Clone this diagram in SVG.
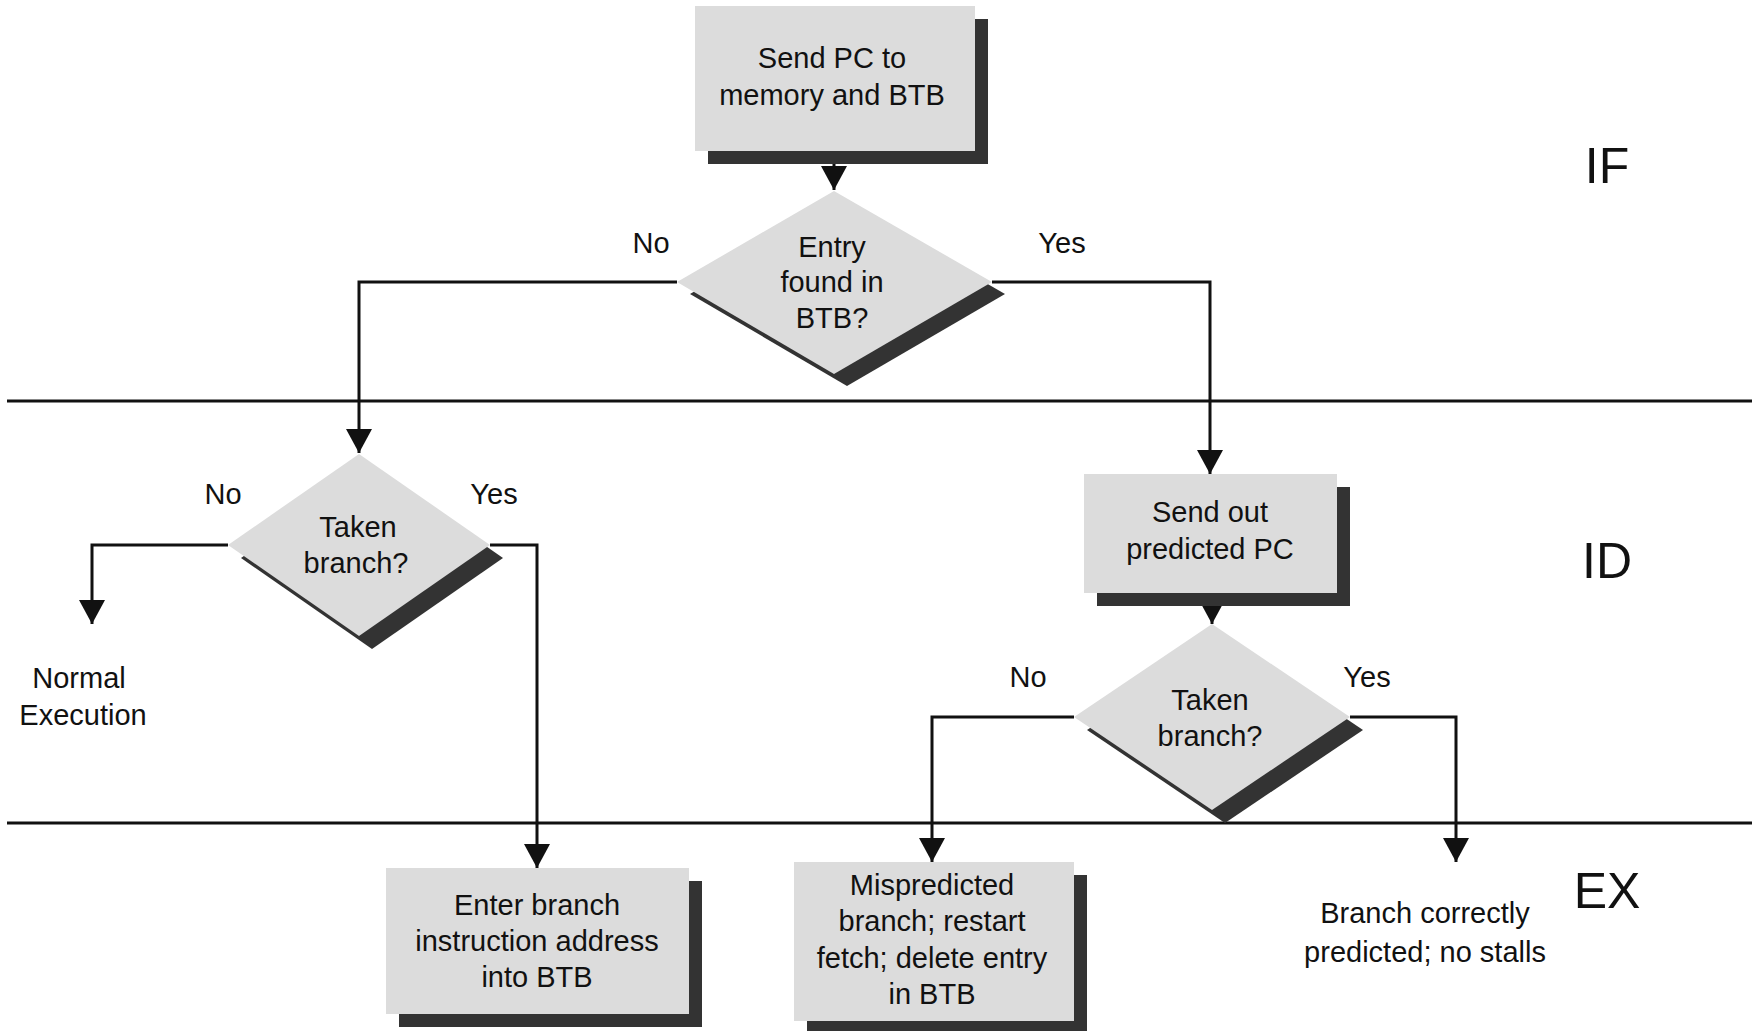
<svg xmlns="http://www.w3.org/2000/svg" width="1757" height="1031" viewBox="0 0 1757 1031">
<style>
  .t { font-family: "Liberation Sans", Arial, sans-serif; font-size: 29px; fill: #111; text-anchor: middle; }
  .big { font-family: "Liberation Sans", Arial, sans-serif; font-size: 50px; fill: #111; text-anchor: middle; }
  .box { fill: #dcdcdc; }
  .sh { fill: #333; }
  .ln { fill: none; stroke: #111; stroke-width: 3; }
  .sep { fill: none; stroke: #111; stroke-width: 3; }
</style>
<defs>
  <marker id="arr" markerUnits="userSpaceOnUse" markerWidth="26" markerHeight="26" refX="24" refY="13" orient="auto">
    <path d="M0,0 L24,13 L0,26 z" fill="#111"/>
  </marker>
</defs>
<rect width="1757" height="1031" fill="#fff"/>

<g id="separators">
  <line class="sep" x1="7" y1="401" x2="1752" y2="401"/>
  <line class="sep" x1="7" y1="823" x2="1752" y2="823"/>
</g>

<g id="stage-labels">
  <text class="big" x="1607" y="183">IF</text>
  <text class="big" x="1607" y="578">ID</text>
  <text class="big" x="1607" y="908">EX</text>
</g>

<g id="connectors">
  <path class="ln" d="M834,151 L834,190" marker-end="url(#arr)"/>
  <path class="ln" d="M677,282 L359,282 L359,453" marker-end="url(#arr)"/>
  <path class="ln" d="M992,282 L1210,282 L1210,474" marker-end="url(#arr)"/>
  <path class="ln" d="M228,545 L92,545 L92,624" marker-end="url(#arr)"/>
  <path class="ln" d="M490,545 L537,545 L537,868" marker-end="url(#arr)"/>
  <path class="ln" d="M1212,593 L1212,624" marker-end="url(#arr)"/>
  <path class="ln" d="M1074,717 L932,717 L932,862" marker-end="url(#arr)"/>
  <path class="ln" d="M1350,717 L1456,717 L1456,862" marker-end="url(#arr)"/>
</g>

<g id="send-pc">
  <rect class="sh" x="708" y="19" width="280" height="145"/>
  <rect class="box" x="695" y="6" width="280" height="145"/>
  <text class="t" x="832" y="68">Send PC to</text>
  <text class="t" x="832" y="105">memory and BTB</text>
</g>

<g id="entry-found">
  <polygon class="sh" points="847,203 1005,294 847,386 690,294"/>
  <polygon class="box" points="834,191 992,282 834,374 677,282"/>
  <text class="t" x="832" y="257">Entry</text>
  <text class="t" x="832" y="292">found in</text>
  <text class="t" x="832" y="328">BTB?</text>
</g>
<g id="labels-entry">
  <text class="t" x="651" y="253">No</text>
  <text class="t" x="1062" y="253">Yes</text>
</g>

<g id="taken-left">
  <polygon class="sh" points="372,467 503,558 372,649 241,558"/>
  <polygon class="box" points="359,454 490,545 359,636 228,545"/>
  <text class="t" x="358" y="537">Taken</text>
  <text class="t" x="356" y="573">branch?</text>
</g>
<g id="labels-taken-left">
  <text class="t" x="223" y="504">No</text>
  <text class="t" x="494" y="504">Yes</text>
</g>

<g id="normal-execution">
  <text class="t" x="79" y="688">Normal</text>
  <text class="t" x="83" y="725">Execution</text>
</g>

<g id="send-out">
  <rect class="sh" x="1097" y="487" width="253" height="119"/>
  <rect class="box" x="1084" y="474" width="253" height="119"/>
  <text class="t" x="1210" y="522">Send out</text>
  <text class="t" x="1210" y="559">predicted PC</text>
</g>

<g id="taken-right">
  <polygon class="sh" points="1225,637 1363,730 1225,823 1087,730"/>
  <polygon class="box" points="1212,624 1350,717 1212,810 1074,717"/>
  <text class="t" x="1210" y="710">Taken</text>
  <text class="t" x="1210" y="746">branch?</text>
</g>
<g id="labels-taken-right">
  <text class="t" x="1028" y="687">No</text>
  <text class="t" x="1367" y="687">Yes</text>
</g>

<g id="enter-branch">
  <rect class="sh" x="399" y="881" width="303" height="146"/>
  <rect class="box" x="386" y="868" width="303" height="146"/>
  <text class="t" x="537" y="915">Enter branch</text>
  <text class="t" x="537" y="951">instruction address</text>
  <text class="t" x="537" y="987">into BTB</text>
</g>

<g id="mispredicted">
  <rect class="sh" x="807" y="875" width="280" height="159"/>
  <rect class="box" x="794" y="862" width="280" height="159"/>
  <text class="t" x="932" y="895">Mispredicted</text>
  <text class="t" x="932" y="931">branch; restart</text>
  <text class="t" x="932" y="968">fetch; delete entry</text>
  <text class="t" x="932" y="1004">in BTB</text>
</g>

<g id="correct">
  <text class="t" x="1425" y="923">Branch correctly</text>
  <text class="t" x="1425" y="962">predicted; no stalls</text>
</g>
</svg>
